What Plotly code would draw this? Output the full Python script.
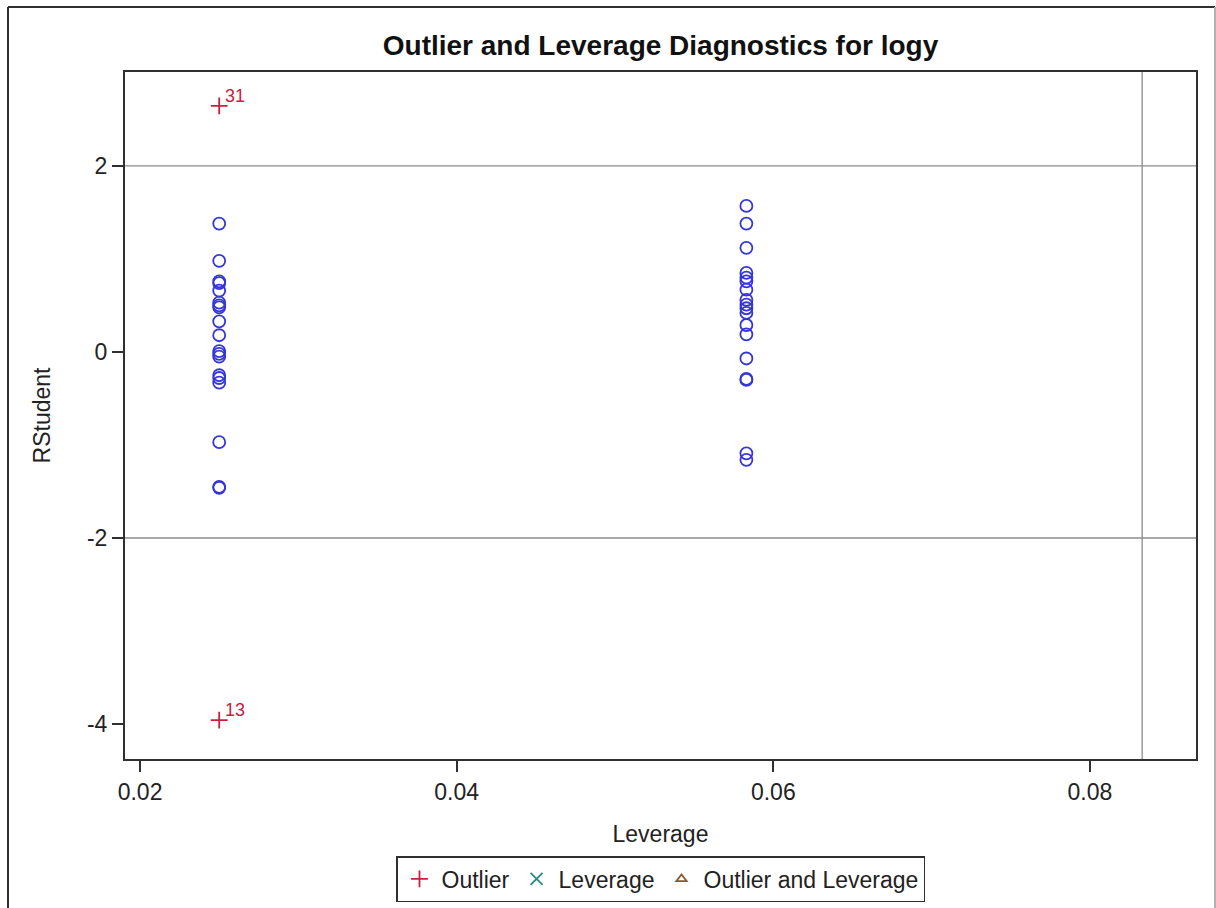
import plotly.graph_objects as go

# ---- data ----
lev_low = 0.025
lev_high = 0.0583
rstud_low = [1.38, 0.98, 0.76, 0.74, 0.66, 0.53, 0.50, 0.48, 0.33, 0.18,
             0.01, -0.02, -0.05, -0.25, -0.28, -0.33, -0.97, -1.45, -1.46]
rstud_high = [1.57, 1.38, 1.12, 0.85, 0.80, 0.76, 0.67, 0.56, 0.51, 0.47,
              0.42, 0.29, 0.19, -0.07, -0.29, -0.30, -1.09, -1.16]
outlier_lev = [0.025, 0.025]
outlier_rstud = [2.645, -3.957]
outlier_obs = ["31", "13"]
rstud_cut = [2, -2]
lev_cut = 0.0833
x_ticks = [0.02, 0.04, 0.06, 0.08]
x_ticktext = ["0.02", "0.04", "0.06", "0.08"]
y_ticks = [-4, -2, 0, 2]
y_ticktext = ["-4", "-2", "0", "2"]

FONT = "Liberation Sans, Arial, sans-serif"
BLUE = "#3535dc"
RED = "#c8203c"
TEAL = "#2a8a80"
BROWN = "#8a5a2a"

fig = go.Figure()

fig.add_trace(go.Scatter(
    x=[lev_low] * len(rstud_low) + [lev_high] * len(rstud_high),
    y=rstud_low + rstud_high,
    mode="markers",
    marker=dict(symbol="circle-open", size=12, color=BLUE, line=dict(width=1.8, color=BLUE)),
    showlegend=False, name="RStudent"))

fig.add_trace(go.Scatter(
    x=outlier_lev, y=outlier_rstud,
    mode="markers",
    marker=dict(symbol="cross-thin", size=12, color=RED, line=dict(width=1.8, color=RED)),
    name="Outlier"))

for xv, yv, t in zip(outlier_lev, outlier_rstud, outlier_obs):
    fig.add_annotation(x=xv, y=yv, text=t, showarrow=False, xanchor="left", yanchor="middle",
                       xshift=4, yshift=10, font=dict(family=FONT, size=18, color=RED))

fig.add_trace(go.Scatter(
    x=[None], y=[None], mode="markers",
    marker=dict(symbol="x-thin", size=12, color=TEAL, line=dict(width=1.8, color=TEAL)),
    name="Leverage"))

fig.add_trace(go.Scatter(
    x=[None], y=[None], mode="markers",
    marker=dict(symbol="triangle-up-open", size=9, color=BROWN, line=dict(width=1.8, color=BROWN)),
    name="Outlier and Leverage"))

for c in rstud_cut:
    fig.add_shape(type="line", xref="paper", x0=0, x1=1, yref="y", y0=c, y1=c,
                  line=dict(color="#8c8c8c", width=1.3), layer="below")
fig.add_shape(type="line", yref="paper", y0=0, y1=1, xref="x", x0=lev_cut, x1=lev_cut,
              line=dict(color="#8c8c8c", width=1.3), layer="below")

# outer frame
W, H = 1216, 908
L, R, T, B = 125, 20, 72, 149
pw, ph = W - L - R, H - T - B
def px(x):
    return (x - L) / pw
def py(y):
    return (H - B - y) / ph
fig.add_shape(type="line", xref="paper", yref="paper", x0=px(8), x1=px(8), y0=py(7), y1=py(915),
              line=dict(color="#303030", width=2))
fig.add_shape(type="line", xref="paper", yref="paper", x0=px(8), x1=px(1215), y0=py(7), y1=py(7),
              line=dict(color="#303030", width=2))
fig.add_shape(type="line", xref="paper", yref="paper", x0=px(1215), x1=px(1215), y0=py(7), y1=py(915),
              line=dict(color="#b0b0b0", width=2))

FS = 23
axis_common = dict(showgrid=False, zeroline=False, showline=True, mirror=True,
                   linecolor="#303030", linewidth=2, ticks="outside", ticklen=11,
                   tickwidth=1.5, tickcolor="#303030",
                   tickfont=dict(family=FONT, size=FS, color="#222"))

fig.update_layout(
    width=W, height=H,
    margin=dict(l=L, r=R, t=T, b=B, autoexpand=False),
    paper_bgcolor="white", plot_bgcolor="white",
    title=dict(text="<b>Outlier and Leverage Diagnostics for logy</b>",
               font=dict(family=FONT, size=28, color="#111"),
               x=0.5, xref="paper", xanchor="center", y=1 - 45 / H, yanchor="middle"),
    xaxis=dict(range=[0.01905, 0.0867], tickvals=x_ticks, ticktext=x_ticktext,
               title=dict(text="Leverage", font=dict(family=FONT, size=FS, color="#222"), standoff=22),
               **axis_common),
    yaxis=dict(range=[-4.376, 3.01], tickvals=y_ticks, ticktext=y_ticktext,
               title=dict(text="RStudent", font=dict(family=FONT, size=FS, color="#222"), standoff=30),
               **axis_common),
    legend=dict(orientation="h", x=0.5, xanchor="center", y=py(856), yanchor="top",
                bordercolor="#303030", borderwidth=1.5, bgcolor="white",
                font=dict(family=FONT, size=FS, color="#222"), itemwidth=34,
                tracegroupgap=0),
    showlegend=True,
)

fig.write_html("out.html")
